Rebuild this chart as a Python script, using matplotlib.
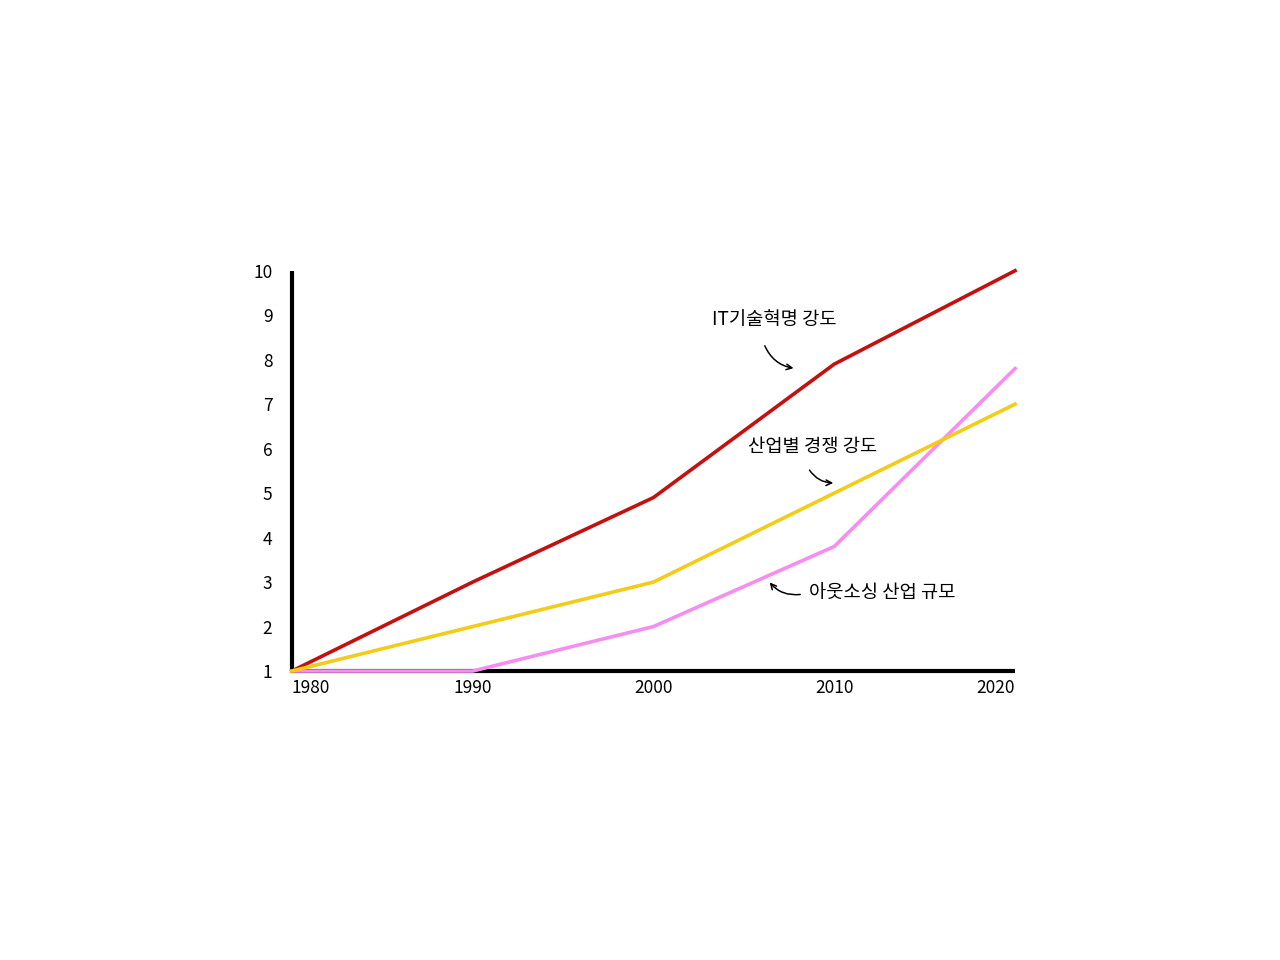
import matplotlib
matplotlib.use("Agg")
import matplotlib.pyplot as plt

plt.rcParams['font.family'] = ['Noto Sans CJK KR', 'DejaVu Sans']

years = [1980, 1990, 2000, 2010, 2020]
it_revolution = [1, 3, 4.9, 7.9, 10]
competition = [1, 2, 3, 5, 7]
outsourcing = [1, 1, 2, 3.8, 7.8]

year_labels = ['1980', '1990', '2000', '2010', '2020']
y_ticks = [1, 2, 3, 4, 5, 6, 7, 8, 9, 10]

fig = plt.figure(figsize=(12.8, 9.6), dpi=100)
ax = fig.add_axes([0.228, 0.301, 0.565, 0.417])

ax.plot(years, it_revolution, color='#c4100f', lw=2.6, clip_on=False, zorder=4)
ax.plot(years, competition, color='#f2cc17', lw=2.6, clip_on=False, zorder=4)
ax.plot(years, outsourcing, color='#f58ef0', lw=2.6, clip_on=False, zorder=3)

ax.set_xlim(1980, 2020)
ax.set_ylim(1, 10)

for s in ['top', 'right']:
    ax.spines[s].set_visible(False)
for s in ['left', 'bottom']:
    ax.spines[s].set_linewidth(3)
    ax.spines[s].set_color('black')
    ax.spines[s].set_capstyle('butt')
    ax.spines[s].set_zorder(2)

ax.set_xticks(years)
ax.set_xticklabels(year_labels, fontsize=12.5)
ax.set_yticks(y_ticks)
ax.set_yticklabels([str(v) for v in y_ticks], fontsize=12.5)
ax.tick_params(axis='both', length=0)
ax.tick_params(axis='x', pad=6)
ax.tick_params(axis='y', pad=14)
xt = ax.get_xticklabels()
xt[0].set_ha('left')
xt[-1].set_ha('right')

# annotations
ax.text(2006.7, 8.9, 'IT기술혁명 강도', fontsize=13.5, ha='center', va='center')
ax.annotate('', xy=(2007.9, 7.8), xytext=(2006.1, 8.37),
            arrowprops=dict(arrowstyle='->', color='black', lw=1.1,
                            connectionstyle='arc3,rad=0.3'))

ax.text(2008.8, 6.05, '산업별 경쟁 강도', fontsize=13.5, ha='center', va='center')
ax.annotate('', xy=(2010.1, 5.23), xytext=(2008.55, 5.57),
            arrowprops=dict(arrowstyle='->', color='black', lw=1.1,
                            connectionstyle='arc3,rad=0.3'))

ax.text(2008.6, 2.76, '아웃소싱 산업 규모', fontsize=13.5, ha='left', va='center')
ax.annotate('', xy=(2006.33, 3.04), xytext=(2008.27, 2.73),
            arrowprops=dict(arrowstyle='->', color='black', lw=1.1,
                            connectionstyle='arc3,rad=-0.3'))

fig.savefig('out.png', dpi=100, facecolor='white')
